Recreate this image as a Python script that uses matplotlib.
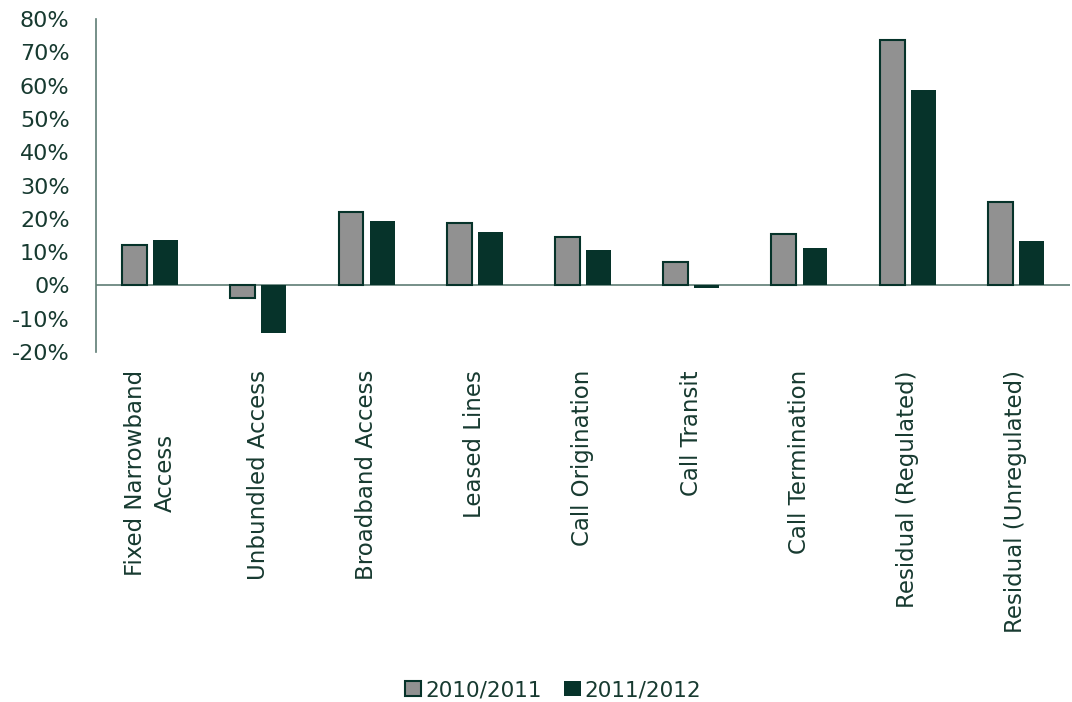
import matplotlib
matplotlib.use("Agg")
import matplotlib.pyplot as plt
import numpy as np
from matplotlib.ticker import FuncFormatter

categories = ["Fixed Narrowband\nAccess", "Unbundled Access", "Broadband Access",
              "Leased Lines", "Call Origination", "Call Transit", "Call Termination",
              "Residual (Regulated)", "Residual (Unregulated)"]
series_names = ["2010/2011", "2011/2012"]
v2010 = [12.2, -3.7, 22.1, 18.6, 14.5, 7.1, 15.3, 73.6, 24.9]
v2011 = [13.5, -14.3, 19.4, 15.9, 10.5, -0.9, 11.2, 58.7, 13.3]
yticks = [-20, -10, 0, 10, 20, 30, 40, 50, 60, 70, 80]

text_color = "#173a30"
dark = "#06332a"
gray = "#919191"
axis_color = "#5f7d74"

plt.rcParams['font.family'] = ['DejaVu Sans']

fig = plt.figure(figsize=(10.72, 7.02), dpi=100)
ax = fig.add_axes([96/1072, 1-352/702, 1-96/1072-2/1072, (352-19)/702])

x = np.arange(len(categories))
w = 0.23
ax.bar(x - 0.0285 - w/2, v2010, width=w, color=gray, edgecolor=dark, linewidth=1.5, label=series_names[0])
ax.bar(x + 0.0285 + w/2, v2011, width=w, color=dark, edgecolor=dark, linewidth=0, label=series_names[1])

ax.set_xlim(-0.5, len(categories) - 0.5)
ax.set_ylim(-20, 80)
ax.set_yticks(yticks)
ax.yaxis.set_major_formatter(FuncFormatter(lambda v, p: f"{int(v)}%"))
ax.set_xticks(x)
ax.set_xticklabels(categories, rotation=90, ha="center", va="top", multialignment="center",
                   fontsize=16.5, linespacing=1.4)
ax.tick_params(axis="both", length=0, labelcolor=text_color)
ax.tick_params(axis="y", labelsize=16, pad=19)
ax.tick_params(axis="x", pad=13)
for s in ["top", "right", "bottom"]:
    ax.spines[s].set_visible(False)
ax.spines["left"].set_color(axis_color)
ax.spines["left"].set_linewidth(1.2)
ax.axhline(0, color=axis_color, linewidth=1.2, zorder=0.5)

leg = fig.legend(loc="center", bbox_to_anchor=(0.516, 1-690/702), ncol=2, frameon=False,
                 fontsize=15.5, handlelength=0.75, handleheight=0.75, handletextpad=0.2,
                 columnspacing=1.05, labelcolor=text_color)

fig.savefig("out.png", dpi=100)
